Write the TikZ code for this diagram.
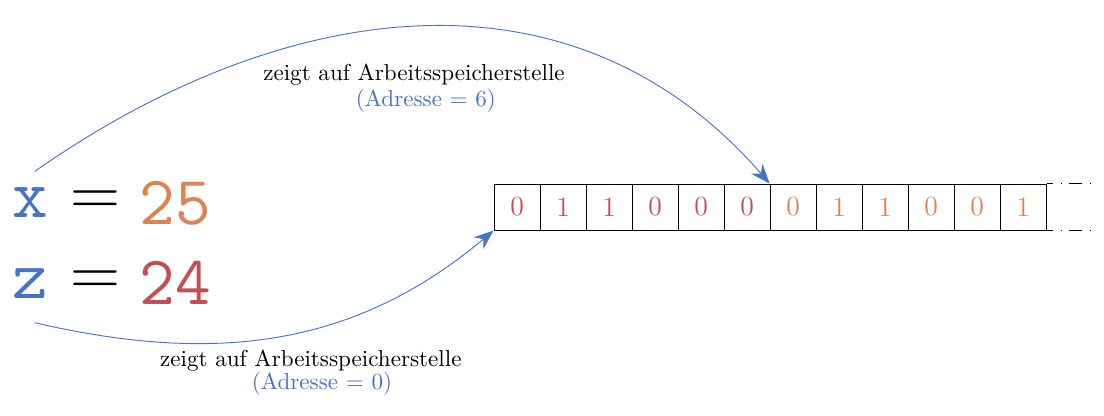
\documentclass[tikz,border=0pt]{standalone}
\usepackage{tikz}
\usetikzlibrary{arrows.meta}

\definecolor{ptrblue}{RGB}{70,114,200}
\definecolor{zred}{RGB}{196,78,82}
\definecolor{xorange}{RGB}{221,132,82}

\begin{document}
\begin{tikzpicture}[
	var/.style={font=\fontsize{30}{36}\selectfont, inner sep=2pt},
	cell/.style={draw, minimum size=0.7cm, inner sep=0pt, font=\large},
	ptr/.style={ptrblue, -{Stealth[length=8.5pt,width=6.5pt]}},
	lbl/.style={anchor=base},
	more/.style={dash pattern=on 6pt off 3.5pt on 0.4pt off 3pt, dash phase=3.4pt}
	]
	\useasboundingbox (0,0) rectangle (16.80,6.317);

	% variables
	\node[var, ptrblue] (x) at (0.457,3.227) {\texttt{x}};
	\node[var] (eqx) at (1.446,3.227) {=};
	\node[var, xorange] (vx) at (2.67,3.227) {\texttt{25}};

	\node[var, ptrblue] (z) at (0.457,2.009) {\texttt{z}};
	\node[var] (eqz) at (1.446,2.009) {=};
	\node[var, zred] (vz) at (2.67,2.009) {\texttt{24}};

	% memory
	\foreach \b/\c [count=\i from 0] in {0/zred,1/zred,1/zred,0/zred,0/zred,0/zred,0/xorange,1/xorange,1/xorange,0/xorange,0/xorange,1/xorange}{
		\node[cell, text=\c] (c\i) at (7.869+0.7*\i,3.166) {\b};
	}
	\draw[more] (c11.north east) -- ++(0.7,0);
	\draw[more] (c11.south east) -- ++(0.7,0);

	% pointers
	\draw[ptr] ([shift={(2pt,5pt)}]x.north) to[out=35,in=131,looseness=1.05] (c6.north west);
	\draw[ptr] ([shift={(2pt,-8.5pt)}]z.south) to[out=-13,in=220] (c0.south west);

	\node[lbl] (t6) at (6.30,5.099) {zeigt auf Arbeitsspeicherstelle};
	\node[lbl, ptrblue] (a6) at (6.48,4.703) {(Adresse = 6)};
	\node[lbl] (t0) at (4.73,0.746) {zeigt auf Arbeitsspeicherstelle};
	\node[lbl, ptrblue] (a0) at (4.90,0.385) {(Adresse = 0)};
\end{tikzpicture}
\end{document}
